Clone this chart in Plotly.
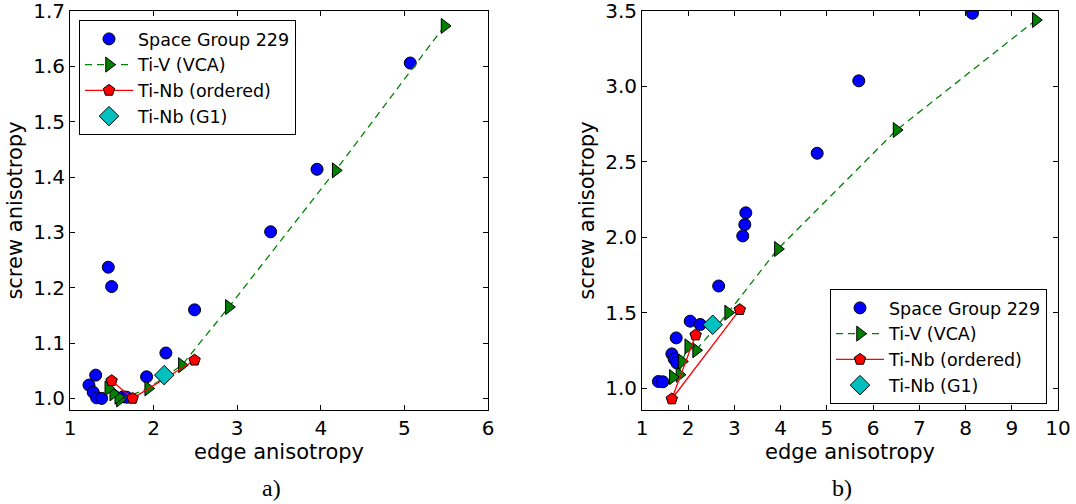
import plotly.graph_objects as go

# ---------------- data: panel a) ----------------
a_sg_x = [1.458, 1.498, 2.49, 2.147, 1.916, 1.307, 1.227, 1.278, 1.319, 1.379, 1.637, 1.677, 3.40, 3.955, 5.07]
a_sg_y = [1.237, 1.202, 1.160, 1.082, 1.039, 1.042, 1.024, 1.011, 1.001, 1.000, 1.003, 1.002, 1.301, 1.414, 1.606]

a_tiv_x = [5.48, 4.178, 2.90, 2.338, 1.935, 1.597, 1.577, 1.517, 1.458]
a_tiv_y = [1.673, 1.412, 1.165, 1.060, 1.018, 0.998, 1.003, 1.009, 1.018]

a_nbo_x = [1.498, 1.749, 2.49]
a_nbo_y = [1.032, 1.000, 1.069]

a_g1_x = [2.127]
a_g1_y = [1.042]

# ---------------- data: panel b) ----------------
b_sg_x = [8.15, 5.69, 4.79, 3.246, 3.224, 3.18, 2.659, 2.043, 2.26, 1.74, 1.646, 1.696, 1.754, 1.355, 1.45]
b_sg_y = [3.485, 3.037, 2.557, 2.162, 2.084, 2.009, 1.677, 1.444, 1.422, 1.333, 1.227, 1.193, 1.167, 1.044, 1.042]

b_tiv_x = [9.52, 6.507, 3.94, 2.863, 2.17, 2.0, 1.863, 1.81, 1.667]
b_tiv_y = [3.44, 2.711, 1.922, 1.50, 1.251, 1.277, 1.177, 1.089, 1.073]

b_nbo_x = [2.16, 1.645, 3.115]
b_nbo_y = [1.352, 0.928, 1.52]

b_g1_x = [2.53]
b_g1_y = [1.42]

names = ["Space Group 229", "Ti-V (VCA)", "Ti-Nb (ordered)", "Ti-Nb (G1)"]

FONT = "DejaVu Sans"
MS = 12
outline = dict(color="black", width=1)

fig = go.Figure()


def add_panel(xa, ya, leg, sgx, sgy, tvx, tvy, nox, noy, gx, gy):
    fig.add_trace(go.Scatter(x=sgx, y=sgy, mode="markers", name=names[0],
                             marker=dict(symbol="circle", size=MS, color="#0000ff", line=outline),
                             xaxis=xa, yaxis=ya, legend=leg))
    fig.add_trace(go.Scatter(x=tvx, y=tvy, mode="lines+markers", name=names[1],
                             line=dict(color="#008000", width=1.3, dash="7px,5px"),
                             marker=dict(symbol="triangle-right", size=MS + 1, color="#008000", line=outline),
                             xaxis=xa, yaxis=ya, legend=leg))
    fig.add_trace(go.Scatter(x=nox, y=noy, mode="lines+markers", name=names[2],
                             line=dict(color="#ff0000", width=1.3),
                             marker=dict(symbol="pentagon", size=MS, color="#ff0000", line=outline),
                             xaxis=xa, yaxis=ya, legend=leg))
    fig.add_trace(go.Scatter(x=gx, y=gy, mode="markers", name=names[3],
                             marker=dict(symbol="diamond", size=MS + 3, color="#00bfbf", line=outline),
                             xaxis=xa, yaxis=ya, legend=leg))


add_panel("x", "y", "legend", a_sg_x, a_sg_y, a_tiv_x, a_tiv_y, a_nbo_x, a_nbo_y, a_g1_x, a_g1_y)
add_panel("x2", "y2", "legend2", b_sg_x, b_sg_y, b_tiv_x, b_tiv_y, b_nbo_x, b_nbo_y, b_g1_x, b_g1_y)

W, H = 1076, 504
ydom = [1 - 410 / H, 1 - 11 / H]

axis_common = dict(showline=True, linecolor="black", linewidth=1, mirror="ticks",
                   ticks="inside", ticklen=5, tickwidth=1, tickcolor="black",
                   showgrid=False, zeroline=False, automargin=False,
                   ticklabeloverflow="allow",
                   tickfont=dict(family=FONT, size=20, color="black"))

title_font = dict(family=FONT, size=21, color="black")

legend_common = dict(xanchor="left", yanchor="top",
                     bgcolor="white", bordercolor="black", borderwidth=1,
                     font=dict(family=FONT, size=17.5, color="black"), itemwidth=48,
                     tracegroupgap=0)

fig.update_layout(
    width=W, height=H,
    margin=dict(l=0, r=0, t=0, b=0),
    paper_bgcolor="white", plot_bgcolor="white",
    template="none",
    font=dict(family=FONT, color="black"),
    xaxis=dict(domain=[70 / W, 488 / W], anchor="y", range=[1, 6], dtick=1, tick0=1,
               title=dict(text="edge anisotropy", font=title_font, standoff=4), **axis_common),
    yaxis=dict(domain=ydom, anchor="x", range=[0.979, 1.7], dtick=0.1, tick0=1.0, tickformat=".1f",
               title=dict(text="screw anisotropy", font=title_font, standoff=4), **axis_common),
    xaxis2=dict(domain=[642 / W, 1058 / W], anchor="y2", range=[1, 10], dtick=1, tick0=1,
                title=dict(text="edge anisotropy", font=title_font, standoff=4), **axis_common),
    yaxis2=dict(domain=ydom, anchor="x2", range=[0.855, 3.5], dtick=0.5, tick0=1.0, tickformat=".1f",
                title=dict(text="screw anisotropy", font=title_font, standoff=4), **axis_common),
    legend=dict(x=79 / W, y=1 - 20 / H, **legend_common),
    legend2=dict(x=830 / W, y=1 - 289 / H, **legend_common),
    showlegend=True,
    annotations=[
        dict(text="a)", x=271 / W, y=1 - 488 / H, xref="paper", yref="paper",
             xanchor="center", yanchor="middle",
             showarrow=False, font=dict(family="Liberation Serif", size=24, color="black")),
        dict(text="b)", x=842 / W, y=1 - 488 / H, xref="paper", yref="paper",
             xanchor="center", yanchor="middle",
             showarrow=False, font=dict(family="Liberation Serif", size=24, color="black")),
    ],
)

fig.write_html("out.html")
